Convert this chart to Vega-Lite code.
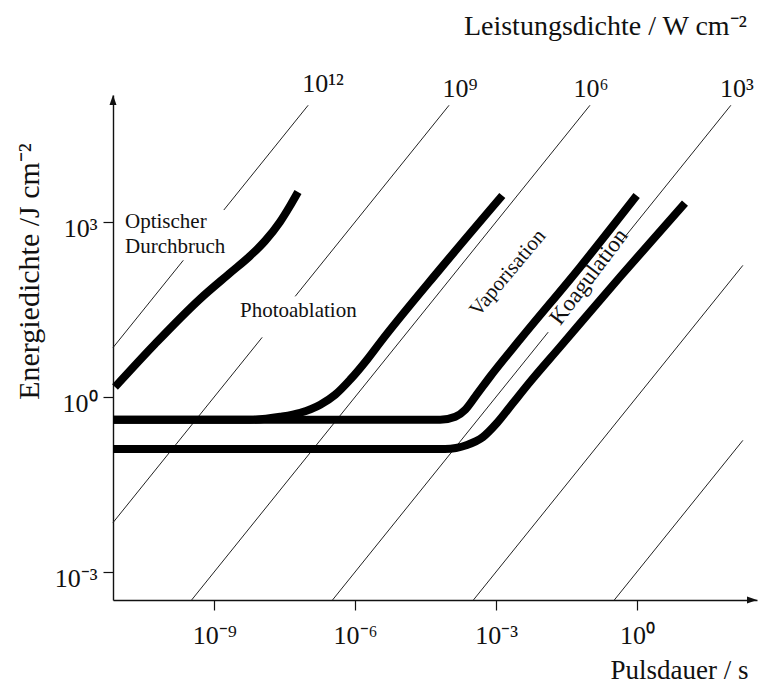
{
  "$schema": "https://vega.github.io/schema/vega-lite/v6.json",
  "width": 644,
  "height": 505,
  "autosize": {"type": "none"},
  "padding": {"left": 113, "top": 95, "right": 2, "bottom": 84},
  "background": "white",
  "title": {"text": "Leistungsdichte / W cm⁻²", "anchor": "end", "orient": "top", "frame": "group", "offset": 8, "dx": -10, "baseline": "alphabetic", "font": "Liberation Serif", "fontSize": 28, "fontWeight": "normal", "color": "#111"},
  "config": {"view": {"stroke": null}, "font": "Liberation Serif", "axis": {"grid": false}},
  "encoding": {
    "x": {
      "field": "t", "type": "quantitative",
      "scale": {"type": "log", "domain": [7e-12, 360]},
      "axis": {
        "values": [1e-9, 1e-6, 0.001, 1],
        "labelExpr": "round(log(datum.value)/LN10) == -9 ? '10⁻⁹' : round(log(datum.value)/LN10) == -6 ? '10⁻⁶' : round(log(datum.value)/LN10) == -3 ? '10⁻³' : '10⁰'",
        "title": "Pulsdauer / s", "titleX": 635, "titleY": 78, "titleAlign": "right", "titleBaseline": "alphabetic",
        "titleFont": "Liberation Serif", "titleFontSize": 27, "titleFontWeight": "normal", "titleColor": "#111",
        "labelFont": "Liberation Serif", "labelFontSize": 26, "labelColor": "#111", "labelPadding": 12,
        "labelFlush": false, "labelOverlap": false,
        "tickSize": 10, "tickColor": "#111", "tickWidth": 1.2, "domainColor": "#111", "domainWidth": 1.4
      }
    },
    "y": {
      "field": "E", "type": "quantitative",
      "scale": {"type": "log", "domain": [0.00033, 150000]},
      "axis": {
        "values": [0.001, 1, 1000],
        "labelExpr": "round(log(datum.value)/LN10) == 3 ? '10³' : round(log(datum.value)/LN10) == 0 ? '10⁰' : '10⁻³'",
        "title": "Energiedichte /J cm⁻²", "titleX": -75, "titleY": 176, "titleAngle": 270, "titleAlign": "center", "titleBaseline": "alphabetic",
        "titleFont": "Liberation Serif", "titleFontSize": 30, "titleFontWeight": "normal", "titleColor": "#111",
        "labelFont": "Liberation Serif", "labelFontSize": 26, "labelColor": "#111", "labelPadding": 6, "labelOffset": 7,
        "labelFlush": false, "labelOverlap": false,
        "tickSize": 10, "tickColor": "#111", "tickWidth": 1.2, "domainColor": "#111", "domainWidth": 1.4
      }
    }
  },
  "layer": [
    {
      "data": {"values": [
        {"seg": "P12a", "t": 7e-12, "E": 7},
        {"seg": "P12a", "t": 2.2e-10, "E": 220},
        {"seg": "P12b", "t": 1.6e-9, "E": 1600},
        {"seg": "P12b", "t": 1e-7, "E": 100000},
        {"seg": "P9a", "t": 7e-12, "E": 0.007},
        {"seg": "P9a", "t": 1.05e-8, "E": 10.5},
        {"seg": "P9b", "t": 5.3e-8, "E": 53},
        {"seg": "P9b", "t": 0.0001, "E": 100000},
        {"seg": "P6", "t": 3.3e-10, "E": 0.00033},
        {"seg": "P6", "t": 0.1, "E": 100000},
        {"seg": "P3a", "t": 3.3e-7, "E": 0.00033},
        {"seg": "P3a", "t": 0.0129, "E": 12.9},
        {"seg": "P3b", "t": 0.486, "E": 486},
        {"seg": "P3b", "t": 100, "E": 100000},
        {"seg": "P0", "t": 0.00033, "E": 0.00033},
        {"seg": "P0", "t": 180, "E": 180},
        {"seg": "Pm3", "t": 0.33, "E": 0.00033},
        {"seg": "Pm3", "t": 180, "E": 0.18}
      ]},
      "mark": {"type": "line", "stroke": "#222", "strokeWidth": 1, "clip": false},
      "encoding": {"detail": {"field": "seg", "type": "nominal"}}
    },
    {
      "data": {"values": [
        {"curve": "Optischer Durchbruch", "t": 7.73e-12, "E": 1.479},
        {"curve": "Optischer Durchbruch", "t": 5.48e-11, "E": 8.07},
        {"curve": "Optischer Durchbruch", "t": 4.98e-10, "E": 47.8},
        {"curve": "Optischer Durchbruch", "t": 2.17e-9, "E": 133},
        {"curve": "Optischer Durchbruch", "t": 5.78e-9, "E": 261},
        {"curve": "Optischer Durchbruch", "t": 1.205e-8, "E": 471},
        {"curve": "Optischer Durchbruch", "t": 2.51e-8, "E": 998},
        {"curve": "Optischer Durchbruch", "t": 4.1e-8, "E": 1875},
        {"curve": "Optischer Durchbruch", "t": 6.08e-8, "E": 3258},
        {"curve": "Photoablation", "t": 7.1e-12, "E": 0.406},
        {"curve": "Photoablation", "t": 5.86e-9, "E": 0.406},
        {"curve": "Photoablation", "t": 2.55e-8, "E": 0.457},
        {"curve": "Photoablation", "t": 6.79e-8, "E": 0.536},
        {"curve": "Photoablation", "t": 1.81e-7, "E": 0.736},
        {"curve": "Photoablation", "t": 3.78e-7, "E": 1.096},
        {"curve": "Photoablation", "t": 7.87e-7, "E": 1.986},
        {"curve": "Photoablation", "t": 1.81e-6, "E": 4.395},
        {"curve": "Photoablation", "t": 3.43e-6, "E": 8.63},
        {"curve": "Photoablation", "t": 6.49e-5, "E": 156.7},
        {"curve": "Photoablation", "t": 0.00136, "E": 2838},
        {"curve": "Vaporisation", "t": 7.1e-12, "E": 0.406},
        {"curve": "Vaporisation", "t": 6.49e-5, "E": 0.406},
        {"curve": "Vaporisation", "t": 0.000136, "E": 0.457},
        {"curve": "Vaporisation", "t": 0.000221, "E": 0.604},
        {"curve": "Vaporisation", "t": 0.000361, "E": 1.012},
        {"curve": "Vaporisation", "t": 0.000752, "E": 2.239},
        {"curve": "Vaporisation", "t": 0.00327, "E": 9.727},
        {"curve": "Vaporisation", "t": 0.0621, "E": 169.4},
        {"curve": "Vaporisation", "t": 0.986, "E": 2838},
        {"curve": "Koagulation", "t": 7e-12, "E": 0.128},
        {"curve": "Koagulation", "t": 8.18e-5, "E": 0.128},
        {"curve": "Koagulation", "t": 0.000241, "E": 0.15},
        {"curve": "Koagulation", "t": 0.000527, "E": 0.2056},
        {"curve": "Koagulation", "t": 0.001047, "E": 0.357},
        {"curve": "Koagulation", "t": 0.0023, "E": 0.787},
        {"curve": "Koagulation", "t": 0.00528, "E": 1.803},
        {"curve": "Koagulation", "t": 0.023, "E": 7.18},
        {"curve": "Koagulation", "t": 0.4355, "E": 113.8},
        {"curve": "Koagulation", "t": 10.54, "E": 2109}
      ]},
      "mark": {"type": "line", "stroke": "#000", "strokeWidth": 8, "interpolate": "monotone", "strokeCap": "butt", "clip": false},
      "encoding": {"detail": {"field": "curve", "type": "nominal"}}
    },
    {
      "data": {"values": [
        {"label": "Optischer\nDurchbruch", "t": 1.26e-11, "E": 787},
        {"label": "Photoablation", "t": 3.54e-9, "E": 23.4}
      ]},
      "mark": {"type": "text", "align": "left", "baseline": "alphabetic", "fontSize": 21, "font": "Liberation Serif", "color": "#111", "lineBreak": "\n", "lineHeight": 25},
      "encoding": {"text": {"field": "label", "type": "nominal"}}
    },
    {
      "data": {"values": [
        {"label": "10¹²", "t": 2.07e-7, "E": 169000},
        {"label": "10⁹", "t": 0.000171, "E": 139000},
        {"label": "10⁶", "t": 0.105, "E": 139000},
        {"label": "10³", "t": 135, "E": 139000}
      ]},
      "mark": {"type": "text", "align": "center", "baseline": "alphabetic", "fontSize": 26, "font": "Liberation Serif", "color": "#111"},
      "encoding": {"text": {"field": "label", "type": "nominal"}}
    },
    {
      "data": {"values": [
        {"label": "Vaporisation", "t": 0.00179, "E": 133}
      ]},
      "mark": {"type": "text", "align": "center", "baseline": "middle", "angle": 310, "fontSize": 21, "font": "Liberation Serif", "color": "#111"},
      "encoding": {"text": {"field": "label", "type": "nominal"}}
    },
    {
      "data": {"values": [
        {"label": "Koagulation", "t": 0.095, "E": 115}
      ]},
      "mark": {"type": "text", "align": "center", "baseline": "middle", "angle": 307, "fontSize": 23, "font": "Liberation Serif", "color": "#111"},
      "encoding": {"text": {"field": "label", "type": "nominal"}}
    },
    {
      "data": {"values": [{"t": 7e-12, "E": 150000}]},
      "mark": {"type": "point", "shape": "M0,0L-0.7,2L0.7,2Z", "size": 100, "filled": true, "color": "#111", "opacity": 1, "clip": false}
    },
    {
      "data": {"values": [{"t": 360, "E": 0.00033}]},
      "mark": {"type": "point", "shape": "M0,0L-2,-0.7L-2,0.7Z", "size": 100, "filled": true, "color": "#111", "opacity": 1, "clip": false}
    }
  ]
}
